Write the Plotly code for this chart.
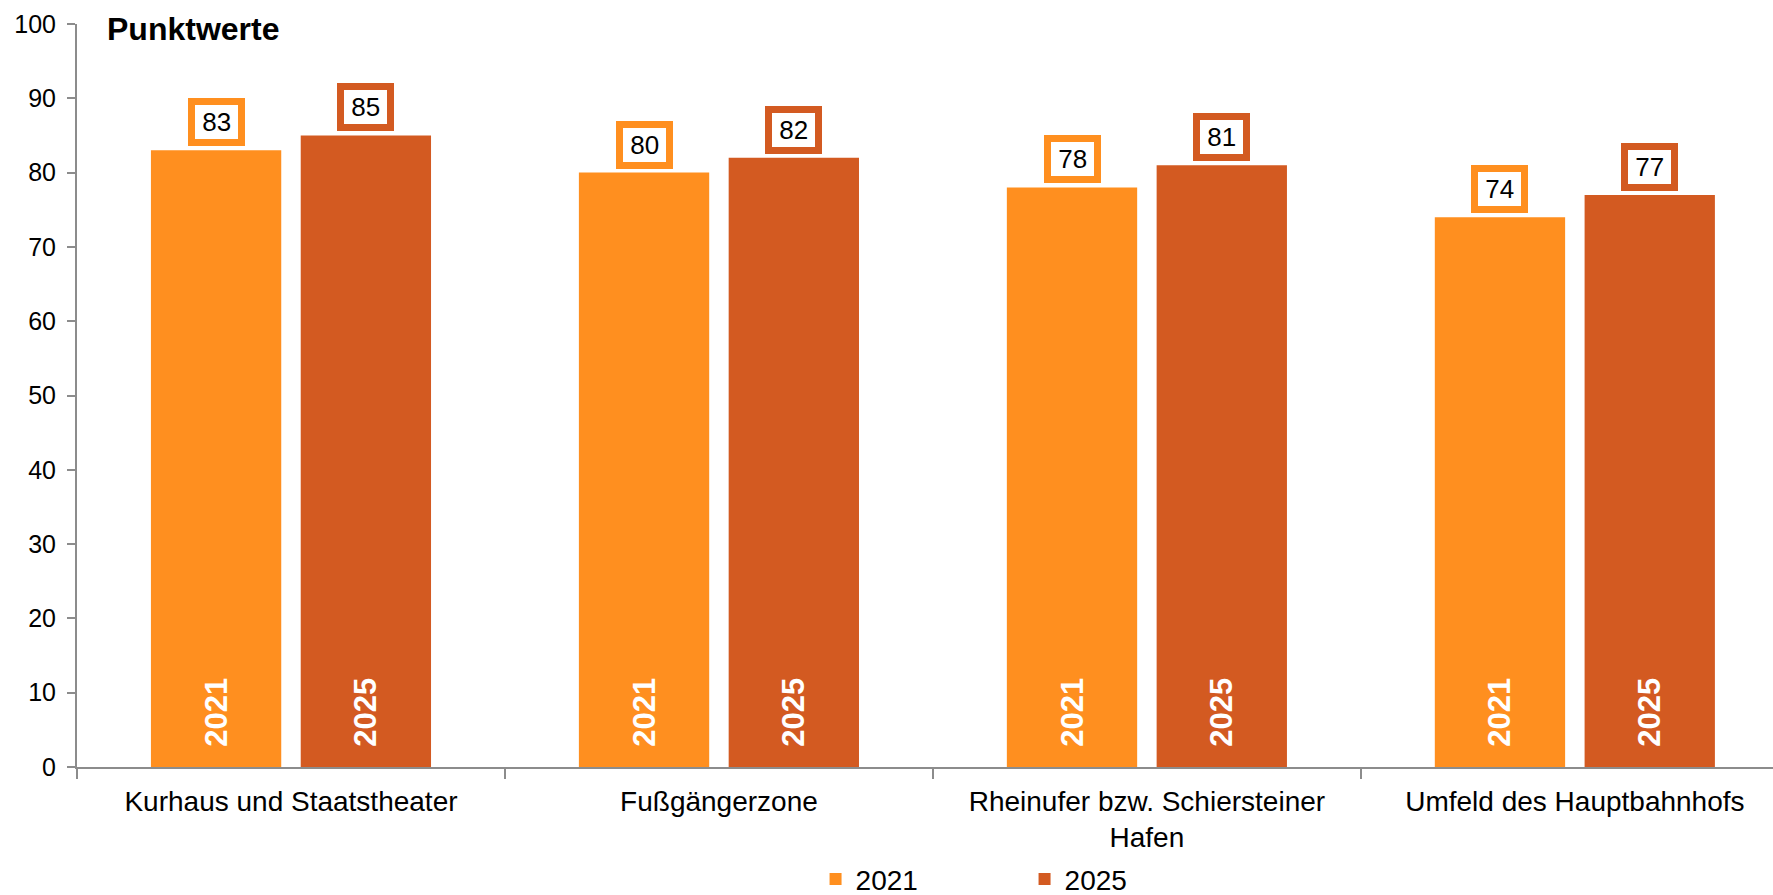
import plotly.graph_objects as go

# Daten
categories = [
    "Kurhaus und Staatstheater",
    "Fußgängerzone",
    "Rheinufer bzw. Schiersteiner<br>Hafen",
    "Umfeld des Hauptbahnhofs",
]
years = ["2021", "2025"]
values_2021 = [83, 80, 78, 74]
values_2025 = [85, 82, 81, 77]
y_ticks = [0, 10, 20, 30, 40, 50, 60, 70, 80, 90, 100]

series = {"2021": values_2021, "2025": values_2025}
colors = {"2021": "#FF8F1F", "2025": "#D35A21"}

FONT = "Liberation Sans, Arial, sans-serif"
BARGAP = 0.3
BARGROUPGAP = 0.13
AXIS_GRAY = "#8C8C8C"

fig = go.Figure()

for year in years:
    fig.add_trace(
        go.Bar(
            x=categories,
            y=series[year],
            name=year,
            marker=dict(color=colors[year], line=dict(width=0)),
            text=["\u00a0\u00a0" + year] * len(categories),
            textposition="inside",
            insidetextanchor="start",
            textangle=-90,
            insidetextfont=dict(color="white", size=31, family=FONT, weight="bold"),
            hoverinfo="x+y+name",
        )
    )

# Wert-Labels über den Balken
offset = (1 - BARGAP) / 4
for k, year in enumerate(years):
    shift = -offset if k == 0 else offset
    for i, val in enumerate(series[year]):
        fig.add_annotation(
            x=i + shift,
            y=val,
            xref="x",
            yref="y",
            text="\u2009" + str(val) + "\u2009",
            showarrow=False,
            yanchor="bottom",
            yshift=4,
            font=dict(size=26, color="black", family=FONT),
            bgcolor="white",
            bordercolor=colors[year],
            borderwidth=7,
            borderpad=2,
        )

fig.update_layout(
    width=1773,
    height=895,
    barmode="group",
    bargap=BARGAP,
    bargroupgap=BARGROUPGAP,
    plot_bgcolor="white",
    paper_bgcolor="white",
    font=dict(family=FONT, color="black", size=26),
    margin=dict(l=77, r=0, t=24, b=128, autoexpand=False),
    title=dict(
        text="<b>Punktwerte</b>",
        font=dict(size=32, color="black", family=FONT),
        x=107 / 1773,
        xanchor="left",
        y=1 - 29 / 895,
        yanchor="middle",
    ),
    legend=dict(
        orientation="h",
        x=0.5587,
        xanchor="center",
        y=-0.151,
        yanchor="middle",
        font=dict(size=28, color="black", family=FONT),
        entrywidth=164,
        entrywidthmode="pixels",
        traceorder="normal",
    ),
    showlegend=True,
)

fig.update_xaxes(
    type="category",
    range=[-0.5, 3.463],
    automargin=False,
    showline=True,
    linecolor=AXIS_GRAY,
    linewidth=2,
    ticks="outside",
    tickson="boundaries",
    ticklen=10,
    tickcolor=AXIS_GRAY,
    tickwidth=1.5,
    showgrid=False,
    ticklabelstandoff=8,
    tickfont=dict(size=28, color="black", family=FONT),
)
fig.update_yaxes(
    range=[0, 100],
    tickvals=y_ticks,
    automargin=False,
    showline=True,
    linecolor=AXIS_GRAY,
    linewidth=2,
    ticks="outside",
    ticklen=8,
    tickcolor=AXIS_GRAY,
    tickwidth=1.5,
    showgrid=False,
    zeroline=False,
    ticklabelstandoff=6,
    tickfont=dict(size=25, color="black", family=FONT),
)

fig.write_html(
    "out.html",
    config={"displayModeBar": False},
    post_script="document.body.style.margin='0';",
)
